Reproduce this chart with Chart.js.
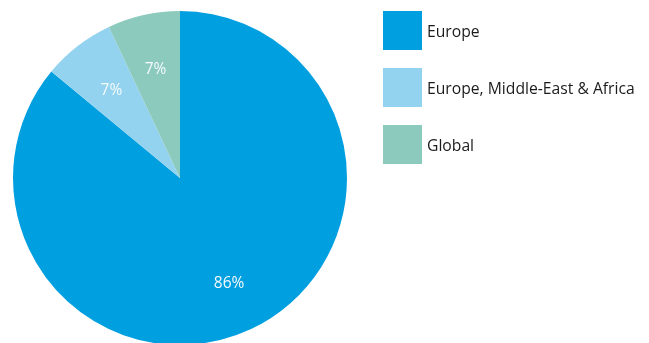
<!DOCTYPE html>
<html>
<head>
<meta charset="utf-8">
<script src="https://cdn.jsdelivr.net/npm/chart.js@4/dist/chart.umd.min.js"></script>
<style>
  html, body { margin: 0; padding: 0; background: #ffffff; overflow: hidden; }
  #wrap { position: relative; width: 649px; height: 350px; }
</style>
</head>
<body>
<div id="wrap"><canvas id="pie"></canvas></div>
<script>
// Share of coverage by region (percent)
const regions = ['Europe', 'Europe, Middle-East & Africa', 'Global'];
const shares = [86, 7, 7];
const sliceColors = ['#009fe0', '#94d3ef', '#8dcabe'];

const FONT = '"Open Sans", "Noto Sans", sans-serif';

// Percent labels placed inside each slice
const sliceLabels = {
  id: 'sliceLabels',
  afterDatasetsDraw(chart) {
    const ctx = chart.ctx;
    const meta = chart.getDatasetMeta(0);
    ctx.save();
    ctx.fillStyle = '#f4fafd';
    ctx.font = '15.5px ' + FONT;
    ctx.textAlign = 'center';
    ctx.textBaseline = 'middle';
    meta.data.forEach((arc, i) => {
      const mid = (arc.startAngle + arc.endAngle) / 2;
      const r = arc.outerRadius * (i === 0 ? 0.69 : 0.67);
      const x = arc.x + Math.cos(mid) * r;
      const y = arc.y + Math.sin(mid) * r;
      ctx.fillText(shares[i] + '%', x, y + 1);
    });
    ctx.restore();
  }
};

// Legend with large square swatches to the right of the pie
const sideLegend = {
  id: 'sideLegend',
  afterDraw(chart) {
    const ctx = chart.ctx;
    const left = 383, top = 11, box = 39, step = 57;
    ctx.save();
    ctx.font = '15.7px ' + FONT;
    ctx.textBaseline = 'middle';
    ctx.textAlign = 'left';
    regions.forEach((name, i) => {
      const y = top + i * step;
      ctx.fillStyle = sliceColors[i];
      ctx.fillRect(left, y, box, box);
      ctx.fillStyle = '#1d1a1b';
      ctx.fillText(name, left + box + 5, y + box / 2 + 2.5);
    });
    ctx.restore();
  }
};

new Chart(document.getElementById('pie'), {
  type: 'pie',
  data: {
    labels: regions,
    datasets: [{
      data: shares,
      backgroundColor: sliceColors,
      borderWidth: 0,
      hoverOffset: 0
    }]
  },
  options: {
    responsive: true,
    maintainAspectRatio: false,
    animation: false,
    layout: { padding: { left: 13, right: 302, top: 11, bottom: 5 } },
    plugins: {
      legend: { display: false },
      tooltip: { enabled: false }
    },
    events: []
  },
  plugins: [sliceLabels, sideLegend]
});
</script>
</body>
</html>
